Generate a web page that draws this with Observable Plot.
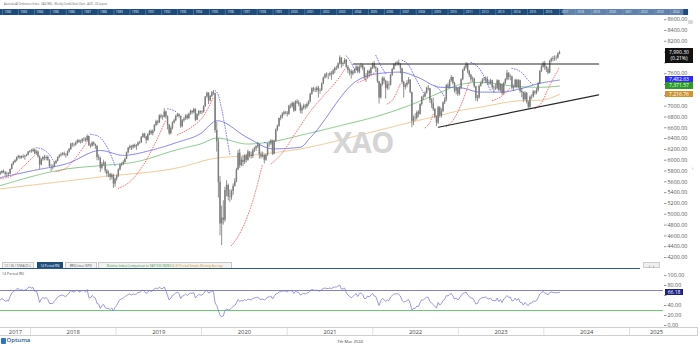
<!DOCTYPE html>
<html><head><meta charset="utf-8">
<script src="https://cdn.jsdelivr.net/npm/d3@7"></script>
<script src="https://cdn.jsdelivr.net/npm/@observablehq/plot@0.6"></script>
<style>
html,body{margin:0;padding:0;background:#fff;}
#root{position:relative;width:700px;height:346px;overflow:hidden;font-family:"Open Sans","Noto Sans",sans-serif;background:#fff;}
#root svg{display:block;}
.tab{position:absolute;top:262px;height:6px;line-height:6px;font-size:3.1px;text-align:center;color:#555;background:#f3f3f3;border:0.5px solid #c9c9c9;border-bottom:none;box-sizing:border-box;white-space:nowrap;overflow:hidden;}
.lbl{position:absolute;left:665px;width:28px;color:#fff;font-size:5px;text-align:center;box-sizing:border-box;white-space:nowrap;}
</style></head><body><div id="root"></div>
<script>
// ---------------- DATA ----------------
const title = "Australia All Ordinaries Index - XAO (Wk) - Weekly CandleStick Chart - AUD - US Layout";
const firstWeek = "2017-08-25";   // first weekly candle (Friday)
const firstOpen = 5740;
const closes = [
5760,5790,5770,5740,5750,5740,5830,5920,5960,5990,6050,6070,6040,6070,6060,6080,6090,6150,6170,
6160,6190,6120,6150,6060,5910,6010,6050,6030,6050,6000,5880,5880,5880,5940,5980,6050,6080,6100,6120,6100,6090,6150,6200,6300,6290,6280,6320,6360,6330,6340,6380,6390,6360,6440,6270,6260,6320,6290,6260,6050,6030,5850,5920,5950,5800,5740,5740,5680,5720,5560,5650,
5700,5820,5910,5930,5960,6020,6140,6220,6250,6230,6270,6250,6270,6320,6320,6420,6480,6430,6370,6470,6530,6490,6540,6640,6710,6690,6820,6790,6790,6890,6800,6650,6490,6580,6690,6730,6810,6840,6810,6620,6730,6760,6820,6770,6850,6900,6880,6940,6740,6840,6900,6880,
6890,6990,7170,7240,7100,7180,7250,7230,6550,6340,5590,4820,4930,4890,5440,5530,5320,5310,5420,5520,5600,5820,6130,5900,6000,5960,6080,6000,6150,6090,6070,6180,6210,6250,6280,6100,6060,6090,6000,6090,6290,6300,6360,6110,6350,6560,6630,6770,6800,6850,6880,6870,
6850,7000,6990,7050,6910,7080,7060,7030,6910,6960,7000,6980,7030,7080,7220,7320,7300,7290,7330,7280,7290,7410,7520,7580,7570,7570,7600,7590,7650,7700,7700,7780,7890,7770,7790,7850,7720,7660,7640,7590,7630,7660,7720,7630,7720,7750,7700,7540,7530,7640,7600,7700,7780,
7710,7690,7450,7150,7400,7510,7460,7330,7400,7390,7570,7680,7770,7770,7800,7770,7690,7440,7350,7380,7430,7480,7250,6720,6780,6770,6880,6850,7030,7160,7170,7240,7330,7320,7110,7040,6940,6800,6690,6970,6820,6900,7060,7110,7380,7350,7470,7530,7420,7280,7320,7220,
7330,7490,7660,7710,7770,7640,7570,7490,7500,7360,7140,7150,7370,7420,7480,7490,7500,7440,7420,7470,7340,7330,7320,7470,7290,7400,7230,7420,7490,7610,7530,7540,7330,7350,7480,7350,7470,7270,7250,7120,7240,7070,6980,7170,7170,7260,7240,7290,7420,7640,7720,7790,
7720,7680,7610,7830,7870,7880,7890,7890,7960,7990.3];
const highs = [
5790,5810,5820,5790,5780,5770,5840,5930,5980,6010,6060,6090,6080,6080,6100,6090,6110,6160,6180,
6200,6220,6210,6180,6170,6080,6030,6070,6090,6080,6080,6010,5920,5910,5960,6000,6060,6100,6130,6140,6150,6120,6170,6220,6310,6320,6310,6340,6380,6380,6370,6400,6420,6410,6470,6450,6300,6340,6340,6300,6270,6100,6060,5960,6000,5970,5830,5800,5760,5750,5740,5670,
5730,5840,5930,5950,5990,6040,6150,6240,6280,6270,6290,6300,6290,6340,6350,6440,6500,6500,6440,6490,6550,6560,6560,6660,6740,6730,6840,6850,6830,6950,6910,6820,6660,6620,6710,6760,6830,6870,6860,6820,6750,6790,6840,6850,6870,6930,6920,6960,6950,6860,6920,6910,
6920,7010,7180,7260,7250,7200,7270,7290,7240,6700,6400,5700,5150,5250,5500,5620,5560,5450,5450,5560,5660,5850,6180,6200,6050,6080,6100,6110,6180,6160,6150,6210,6240,6270,6330,6300,6150,6150,6100,6110,6300,6350,6380,6370,6370,6580,6650,6780,6830,6880,6910,6900,
6900,7020,7040,7080,7070,7100,7120,7100,7060,7000,7040,7030,7060,7100,7240,7340,7350,7340,7360,7370,7320,7430,7540,7600,7620,7600,7630,7640,7680,7720,7740,7800,7930,7900,7820,7880,7860,7750,7690,7670,7660,7690,7750,7740,7750,7790,7770,7720,7600,7660,7670,7720,7800,
7830,7740,7700,7460,7420,7540,7540,7480,7460,7450,7590,7700,7790,7810,7830,7850,7790,7700,7460,7420,7470,7530,7490,7260,6820,6860,6910,6920,7050,7180,7210,7270,7350,7380,7330,7140,7150,6960,6820,7000,6990,6950,7080,7160,7400,7420,7490,7570,7540,7440,7360,7340,
7360,7510,7680,7740,7810,7790,7660,7590,7540,7520,7370,7200,7390,7450,7510,7530,7540,7540,7480,7500,7480,7380,7400,7490,7480,7420,7410,7440,7510,7660,7620,7580,7560,7390,7500,7490,7490,7480,7330,7260,7270,7250,7090,7190,7210,7290,7280,7330,7440,7660,7760,7820,
7830,7740,7720,7850,7890,7920,7930,7930,7990,8020];
const lows = [
5720,5740,5750,5700,5690,5700,5730,5820,5900,5940,5970,6020,6010,6020,6030,6000,6060,6080,6130,
6130,6140,6100,6090,6040,5830,5900,5980,5990,5990,5980,5860,5790,5820,5860,5920,5970,6030,6060,6080,6070,6040,6070,6130,6180,6240,6240,6260,6300,6310,6300,6310,6340,6330,6350,6250,6220,6240,6260,6200,5990,5990,5770,5820,5890,5760,5690,5680,5620,5640,5480,5500,
5610,5680,5800,5880,5900,5940,6010,6120,6190,6180,6200,6220,6180,6250,6290,6310,6400,6400,6300,6350,6450,6460,6450,6520,6620,6650,6680,6760,6740,6780,6760,6560,6460,6470,6560,6670,6710,6790,6770,6590,6600,6700,6740,6740,6750,6830,6840,6860,6710,6730,6810,6850,
6840,6870,6980,7150,7030,7080,7160,7200,6500,6150,5300,4600,4420,4800,4850,5320,5250,5220,5260,5350,5500,5580,5810,5850,5880,5880,5920,5950,5980,6040,6020,6030,6140,6160,6220,6020,6020,6040,5930,5980,6070,6240,6270,6090,6100,6330,6530,6610,6730,6760,6820,6840,
6800,6830,6950,6960,6880,6900,7030,6990,6860,6850,6930,6930,6950,7000,7060,7200,7260,7250,7250,7150,7220,7270,7400,7500,7520,7490,7540,7480,7570,7600,7660,7680,7760,7700,7730,7770,7690,7600,7560,7500,7560,7600,7640,7600,7600,7690,7660,7480,7440,7510,7550,7570,7680,
7680,7620,7420,7040,7130,7370,7400,7130,7290,7300,7370,7550,7660,7730,7740,7740,7600,7400,7150,7300,7340,7400,7230,6600,6640,6720,6740,6790,6830,7000,7110,7150,7220,7280,7050,6960,6900,6770,6620,6660,6780,6780,6880,7030,7080,7320,7330,7440,7390,7240,7210,7180,
7190,7310,7470,7640,7680,7600,7530,7440,7440,7330,7090,7080,7130,7350,7400,7450,7420,7390,7380,7390,7300,7240,7290,7300,7270,7260,7200,7210,7400,7470,7480,7470,7300,7270,7330,7320,7320,7240,7160,7070,7100,7040,6950,6960,7120,7150,7200,7210,7260,7400,7620,7700,
7660,7620,7580,7600,7800,7820,7830,7840,7870,7950];
const rsi14 = [
51,54,52,48,50,49,58,65,68,70,73,74,70,72,70,71,72,76,77,
75,76,68,70,59,46,53,56,54,56,52,44,44,44,49,52,57,59,60,61,59,58,62,65,70,68,67,69,71,67,68,70,70,67,72,56,55,60,57,55,44,43,34,40,42,36,34,34,32,35,29,36,
40,47,52,53,55,58,60,62,63,61,63,62,63,66,66,69,71,68,64,68,70,68,70,73,75,73,77,74,74,77,70,60,51,55,60,62,65,66,64,54,59,60,63,60,63,65,64,66,55,59,62,61,
61,64,69,71,65,67,69,68,45,40,30,20,18,19,30,33,31,32,35,38,40,45,52,48,50,49,52,50,53,52,51,54,55,56,57,53,52,53,51,53,57,57,59,53,58,63,64,67,68,69,69,69,
67,70,69,70,64,68,67,66,61,63,64,63,65,66,70,72,71,70,71,69,69,72,74,75,74,74,75,74,76,77,77,79,81,73,73,75,66,61,59,55,58,61,64,58,64,65,62,54,54,59,57,61,64,
59,58,49,40,50,54,52,48,51,50,57,60,63,63,64,62,59,50,47,48,50,52,44,31,34,34,39,38,46,51,51,54,57,56,48,45,42,38,35,46,41,44,50,52,60,59,62,64,59,53,55,51,
55,60,64,65,67,61,58,55,55,50,43,44,52,54,56,56,57,54,53,55,50,50,49,55,48,52,46,53,56,60,56,57,49,50,55,50,54,46,46,41,46,42,40,45,45,49,48,50,56,63,66,68,
65,64,61,66,67,66,66,65,66,66.18];

// moving averages (date, value)
const maBlue = [["2017-08-26",5680],["2018-01-14",5810],["2018-06-08",5940],["2018-10-26",6180],["2019-02-01",6090],["2019-05-27",6180],["2019-09-19",6330],["2019-12-27",6490],["2020-03-08",6730],["2020-07-14",6420],["2020-11-02",6210],["2021-02-26",6240],["2021-04-10",6420],["2021-10-27",7475],["2022-01-20",7600],["2022-04-28",7630],["2022-07-09",7540],["2022-10-15",7350],["2023-01-09",7340],["2023-04-04",7260],["2023-06-29",7260],["2023-09-22",7320],["2023-12-03",7410],["2024-03-08",7483]];
const maGreen = [["2017-08-26",5530],["2018-06-08",5840],["2018-10-26",5900],["2019-03-15",5960],["2019-10-02",6210],["2019-12-27",6300],["2020-03-08",6410],["2020-07-14",6300],["2020-11-19",6360],["2021-02-26",6460],["2021-08-16",6640],["2022-02-02",6830],["2022-06-10",7020],["2022-10-15",7250],["2023-01-09",7400],["2023-04-04",7440],["2023-09-22",7360],["2023-12-16",7350],["2024-03-08",7372]];
const maOrange = [["2017-08-26",5470],["2018-10-26",5690],["2019-10-02",5870],["2020-02-20",6030],["2020-07-14",6085],["2021-02-26",6210],["2021-12-09",6500],["2022-06-10",6700],["2022-10-15",6830],["2023-01-09",6920],["2023-04-04",6980],["2023-09-22",7100],["2023-12-16",7110],["2024-03-08",7217]];
const maLast = [7482.63, 7371.57, 7216.76];

// parabolic stop dots: rising (below price) and falling (above price) runs
const sarUp = [
 [["2017-08-25",5660],["2017-10-20",5720],["2017-12-01",5880],["2018-01-19",6090]],
 [["2018-04-20",5790],["2018-06-01",5850],["2018-07-13",6050],["2018-08-24",6300],["2018-09-07",6400]],
 [["2019-01-11",5480],["2019-03-01",5600],["2019-04-26",5900],["2019-06-21",6350],["2019-08-02",6750]],
 [["2019-09-20",6470],["2019-11-15",6600],["2020-01-10",6820],["2020-02-21",7170]],
 [["2020-05-08",4420],["2020-06-19",4700],["2020-08-07",5250],["2020-09-18",5930]],
 [["2020-10-23",5930],["2020-12-04",6100],["2021-02-05",6500],["2021-04-09",6900],["2021-06-11",7220],["2021-08-06",7500],["2021-09-03",7680]],
 [["2021-10-29",7440],["2021-12-03",7500],["2022-01-07",7620]],
 [["2022-03-04",7040],["2022-04-01",7150],["2022-04-29",7420]],
 [["2022-08-12",6600],["2022-09-02",6700],["2022-09-16",6850]],
 [["2022-11-11",6620],["2022-12-16",6780],["2023-01-20",7100],["2023-02-17",7450]],
 [["2023-05-26",7100],["2023-07-07",7190],["2023-08-11",7340]],
 [["2023-11-24",6950],["2023-12-22",7060],["2024-01-26",7380],["2024-03-08",7720]]
];
const sarDown = [
 [["2018-01-26",6230],["2018-02-23",6200],["2018-03-23",6100],["2018-04-13",5960]],
 [["2018-09-14",6480],["2018-10-19",6440],["2018-11-23",6250],["2018-12-28",5900]],
 [["2019-08-09",6950],["2019-08-30",6930],["2019-09-13",6900]],
 [["2020-02-28",7290],["2020-03-13",7200],["2020-03-27",6950],["2020-04-17",6450],["2020-05-01",6100]],
 [["2020-09-25",6330],["2020-10-16",6300]],
 [["2021-09-10",7930],["2021-10-01",7800],["2021-10-22",7600]],
 [["2022-01-14",7940],["2022-02-04",7750],["2022-02-25",7600]],
 [["2022-05-06",7850],["2022-06-03",7760],["2022-07-01",7530],["2022-08-05",7250]],
 [["2022-09-23",7380],["2022-10-14",7300],["2022-11-04",7170]],
 [["2023-02-24",7810],["2023-03-31",7700],["2023-05-05",7420],["2023-05-19",7280]],
 [["2023-08-18",7700],["2023-09-29",7620],["2023-10-27",7480],["2023-11-17",7390]]
];
const resistance = [["2021-10-10",7780],["2024-08-22",7780]];
const support = [["2022-10-08",6610],["2024-08-22",7209]];
const lastClose = 7990.30;
const lastChangeText = "(0.21%)";
const lastRsi = 66.18;

// ticks / labels
const priceTicks = [4200,4400,4600,4800,5000,5200,5400,5600,5800,6000,6200,6400,6600,6800,7000,7200,7400,7600,7800,8000,8200,8400,8600];
const rsiTicks = [0,20,40,60,80,100];
const rsiBands = [70,30];
const axisYears = [2017,2018,2019,2020,2021,2022,2023,2024,2025];
const navYears = [1982,1983,1984,1985,1986,1987,1988,1989,1990,1991,1992,1993,1994,1995,1996,1997,1998,1999,2000,2001,2002,2003,2004,2005,2006,2007,2008,2009,2010,2011,2012,2013,2014,2015,2016,2017,2018,2019,2020,2021,2022,2023,2024];
const navSpan = [1981.75, 2025.0];
const navWindow = [2017.15, 2024.7];
const tabs = ["12 / 26 / 9 MACD-C","14 Period RSI","RRG Lines (SPX)"];
const tabRel = ["Relative Index Comparison to S&P 500 INDEX ","& 30 Period Simple Moving Average"];
const footerDate = "7th Mar 2024";

// ---------------- BUILD ----------------
const root = document.getElementById("root");
const parse = d3.utcParse("%Y-%m-%d");
const FONT = "'Open Sans','Noto Sans',sans-serif";
const xDomain = [parse("2017-08-26"), parse("2025-05-26")];
function put(el, left, top){ el.style.position="absolute"; el.style.left=left+"px"; el.style.top=top+"px"; root.appendChild(el); return el; }
function div(html, css){ const d=document.createElement("div"); d.innerHTML=html; d.style.cssText=css; root.appendChild(d); return d; }

const t0 = parse(firstWeek);
const candles = closes.map((c,i)=>({date:d3.utcDay.offset(t0,7*i), open:i?closes[i-1]:firstOpen, close:c, high:highs[i], low:lows[i]}));
const rsiData = rsi14.map((v,i)=>({date:d3.utcDay.offset(t0,7*i), rsi:v}));
const pts = a => a.map(([d,v])=>({date:parse(d), value:v}));
const segs = L => L.flatMap((s,k)=>s.map(([d,v])=>({date:parse(d), value:v, seg:k})));

// price scale geometry (shared by the plot and by the label boxes)
const MAIN_TOP = 16, RSI_TOP = 270;
const priceRange = [241, 241-4400*227/4200];
const yPrice = d3.scaleLinear().domain([4200,8600]).range(priceRange);
const yRsi = d3.scaleLinear().domain([0,100]).range([55,5]);
// value label boxes: [centre, halfAbove, halfBelow]
const boxes = [[yPrice(lastClose)+MAIN_TOP, 3.9, 10.5], ...maLast.map(v=>[yPrice(v)+MAIN_TOP, 3.1, 3.1])];
const rsiBox = [yRsi(lastRsi)+RSI_TOP, 3.2, 3.2];
const hidden = (p, list) => list.some(([c,a,b]) => p > c-a-2.6 && p < c+b+2.6);
const f2 = d3.format(".2f");

// title
div(title, "position:absolute;left:4px;top:2.4px;font-size:2.6px;color:#666;white-space:nowrap;");

// navigator bar
const nav = Plot.plot({
  width:700, height:6, margin:0,
  style:{background:"transparent", fontFamily:FONT, overflow:"visible"},
  x:{domain:[1981.75,2025.75], range:[0,700], axis:null},
  y:{domain:[0,1], range:[6,0], axis:null},
  marks:[
    Plot.rectX([navSpan], {x1:d=>d[0], x2:d=>d[1], y1:0, y2:1, fill:"#1d4b7d"}),
    Plot.rectX([navWindow], {x1:d=>d[0], x2:d=>d[1], y1:0, y2:1, fill:"#5f83ad"}),
    Plot.tickX(navYears, {x:d=>d-0.12, y1:0.15, y2:0.85, stroke:"#8aa6c8", strokeWidth:0.4}),
    Plot.text(navYears, {x:d=>d, y:0.5, text:d=>String(d), textAnchor:"start", fontSize:3, fill:"#e4ebf3"})
  ]
});
put(nav, 0, 9);

// main price panel
const main = Plot.plot({
  width:700, height:246, marginTop:0, marginBottom:0, marginLeft:0, marginRight:37,
  style:{background:"transparent", fontFamily:FONT, fontSize:"5.4px", color:"#555", overflow:"visible"},
  x:{type:"utc", domain:xDomain, axis:null},
  y:{domain:[4200,8600], range:priceRange},
  marks:[
    Plot.axisY({ticks:priceTicks, anchor:"right", tickSize:2.5, tickPadding:1.5, label:null, stroke:"#999", fontSize:5.4,
      tickFormat:t => hidden(yPrice(t)+MAIN_TOP, boxes) ? "" : f2(t)}),
    Plot.line(pts(maOrange), {x:"date", y:"value", stroke:"#eab36b", strokeWidth:0.75, strokeDasharray:"1.2,0.8", curve:"monotone-x", clip:true}),
    Plot.line(pts(maGreen), {x:"date", y:"value", stroke:"#5cb55c", strokeWidth:0.75, strokeDasharray:"1.2,0.8", curve:"monotone-x", clip:true}),
    Plot.line(pts(maBlue), {x:"date", y:"value", stroke:"#5b5bf2", strokeWidth:0.7, strokeDasharray:"1.6,0.5", curve:"monotone-x", clip:true}),
    Plot.line(segs(sarUp), {x:"date", y:"value", z:"seg", stroke:"#ff5c5c", strokeWidth:0.9, strokeDasharray:"0.8,1.8", curve:"monotone-x", clip:true}),
    Plot.line(segs(sarDown), {x:"date", y:"value", z:"seg", stroke:"#6262ff", strokeWidth:0.9, strokeDasharray:"0.8,1.8", curve:"monotone-x", clip:true}),
    Plot.ruleX(candles, {x:"date", y1:"low", y2:"high", stroke:"#555", strokeWidth:0.65, clip:true}),
    Plot.ruleX(candles, {x:"date", y1:"open", y2:"close", stroke:"#7c7c7c", strokeWidth:1.45, clip:true}),
    Plot.line(pts(resistance), {x:"date", y:"value", stroke:"#2a2a2a", strokeWidth:1.2}),
    Plot.line(pts(support), {x:"date", y:"value", stroke:"#2a2a2a", strokeWidth:1.2})
  ]
});
put(main, 0, MAIN_TOP);

// watermark
div("XAO", "position:absolute;left:333px;top:127px;font-size:29px;line-height:29px;font-weight:700;color:#d5d5d5;letter-spacing:-0.5px;");

// last value labels on the price axis
const fmt = d3.format(",.2f");
const yc = boxes[0][0];
div(fmt(lastClose)+"<br>"+lastChangeText, `left:665px;top:${yc-3.9}px;height:14.4px;line-height:6px;padding-top:1px;background:#121212;`).className="lbl";
const maColors = ["#2c2cf5","#2b9a2b","#cf9630"];
maLast.forEach((v,i)=>{
  const c = boxes[i+1][0];
  const d = div(fmt(v), `left:665px;top:${c-3.1}px;height:6.2px;line-height:6.2px;background:${maColors[i]};`);
  d.className="lbl";
});
div("", "position:absolute;left:688px;top:19.5px;width:5px;height:4px;background:#d8d8d8;border-radius:1px;");
div("‹", "position:absolute;left:692px;top:165px;font-size:5px;color:#888;");

// tabs row
const tabPos = [[2,31.5],[36.7,26.6],[65,31.7]];
tabs.forEach((t,i)=>{
  const d = div(t, `left:${tabPos[i][0]}px;width:${tabPos[i][1]}px;`);
  d.className = "tab";
  if (i===1){ d.style.background="#1f4e7d"; d.style.color="#fff"; d.style.borderColor="#1f4e7d"; }
});
const rel = div(`<span style="color:#3a9c3a">${tabRel[0]}</span><span style="color:#d99a2b">${tabRel[1]}</span>`, "left:98.3px;width:133.4px;");
rel.className="tab";
div("", "position:absolute;left:0;top:268px;width:640px;height:1px;background:#2c5a8a;");
div("‹&nbsp;&nbsp;›", "position:absolute;left:643px;top:262px;width:17px;height:6px;line-height:6px;font-size:5px;text-align:center;color:#555;background:#efefef;border:0.5px solid #ccc;box-sizing:border-box;");
div("14 Period RSI", "position:absolute;left:2px;top:271px;font-size:3.6px;color:#555;white-space:nowrap;");

// RSI panel
const rsiPlot = Plot.plot({
  width:700, height:58, marginTop:0, marginBottom:0, marginLeft:0, marginRight:37,
  style:{background:"transparent", fontFamily:FONT, fontSize:"5.4px", color:"#555", overflow:"visible"},
  x:{type:"utc", domain:xDomain, axis:null},
  y:{domain:[0,100], range:[55,5]},
  marks:[
    Plot.axisY({ticks:rsiTicks, anchor:"right", tickSize:2.5, tickPadding:1.5, label:null, stroke:"#999", fontSize:5.4,
      tickFormat:t => hidden(yRsi(t)+RSI_TOP, [rsiBox]) ? "" : f2(t)}),
    Plot.ruleY([rsiBands[0]], {stroke:"#8383c6", strokeWidth:1.1}),
    Plot.ruleY([rsiBands[1]], {stroke:"#6ccd6c", strokeWidth:1.1}),
    Plot.line(rsiData, {x:"date", y:"rsi", stroke:"#7878d4", strokeWidth:0.75, clip:true})
  ]
});
put(rsiPlot, 0, RSI_TOP);
const rc = rsiBox[0];
div(lastRsi.toFixed(2), `position:absolute;left:665px;top:${rc-3.2}px;width:18px;height:6.4px;line-height:6.4px;font-size:5px;color:#fff;text-align:center;background:#1b1f86;`);

// bottom time axis
div("", "position:absolute;left:0;top:327px;width:698px;height:8.5px;border-top:0.6px solid #cfcfcf;border-bottom:0.6px solid #cfcfcf;border-right:0.6px solid #cfcfcf;background:#fff;box-sizing:border-box;");
const xs = d3.scaleUtc().domain(xDomain).range([0,663]);
const axisEnd = xs.invert(683);
const yearStarts = axisYears.slice(1).map(y=>new Date(Date.UTC(y,0,1)));
const yearMids = axisYears.map(y=>{
  const a = Math.max(Date.UTC(y,0,1), +xDomain[0]);
  const b = Math.min(Date.UTC(y+1,0,1), +axisEnd);
  return {year:y, date:new Date((a+b)/2)};
});
const axisPlot = Plot.plot({
  width:700, height:8.5, marginTop:0, marginBottom:0, marginLeft:0, marginRight:17,
  style:{background:"transparent", fontFamily:FONT, overflow:"visible"},
  x:{type:"utc", domain:[xDomain[0], axisEnd], axis:null},
  marks:[
    Plot.ruleX(yearStarts, {stroke:"#d3d3d3", strokeWidth:0.7}),
    Plot.text(yearMids, {x:"date", text:d=>String(d.year), frameAnchor:"middle", fontSize:5.8, fill:"#444"})
  ]
});
put(axisPlot, 0, 327);

// footer
div("", "position:absolute;left:1px;top:338px;width:4.5px;height:6px;background:#2f74c0;border-radius:1px;");
div("Optuma", "position:absolute;left:6.5px;top:337.2px;font-size:6px;line-height:7px;color:#1f5a99;font-weight:600;");
div(footerDate, "position:absolute;left:0;width:700px;top:339px;font-size:4.2px;line-height:5px;text-align:center;color:#444;");
</script></body></html>
